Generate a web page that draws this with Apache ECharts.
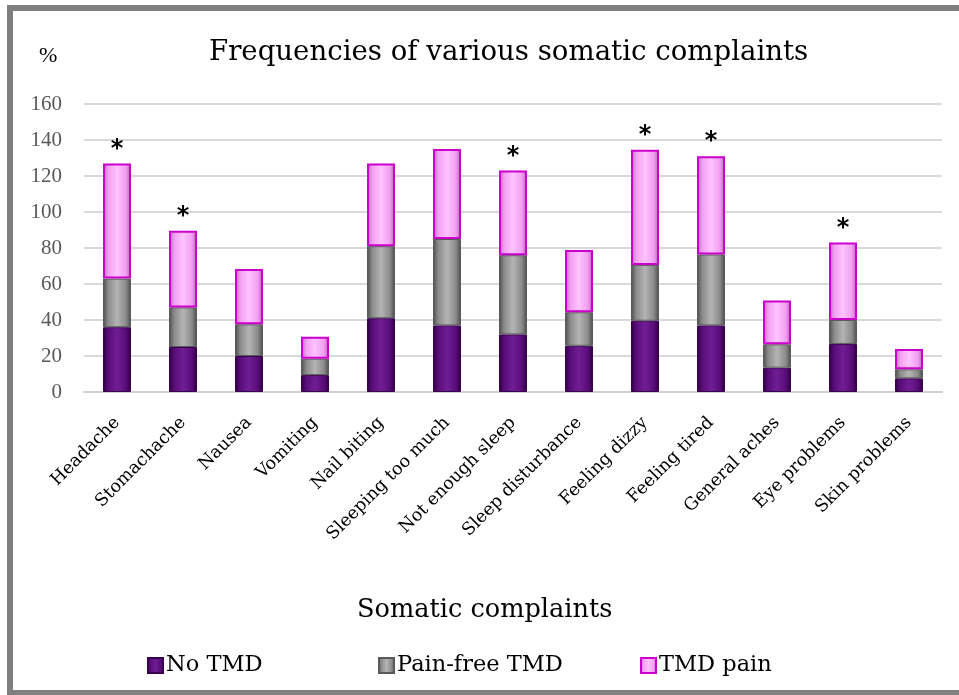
<!DOCTYPE html>
<html><head><meta charset="utf-8">
<script src="https://cdn.jsdelivr.net/npm/echarts@6/dist/echarts.min.js"></script>
<style>html,body{margin:0;padding:0;background:#fff}#c{width:959px;height:695px}</style>
</head><body><div id="c"></div>
<script>
const categories = ['Headache','Stomachache','Nausea','Vomiting','Nail biting','Sleeping too much','Not enough sleep','Sleep disturbance','Feeling dizzy','Feeling tired','General aches','Eye problems','Skin problems'];
const noTMD      = [36, 25, 20, 9.4, 41, 37, 32, 25.7, 39.6, 37, 13.5, 26.7, 7.6];
const painFree   = [27, 22, 17.6, 9.1, 40, 48, 44, 18.6, 31, 39.4, 13, 13.3, 5];
const tmdPain    = [64, 42.6, 30.7, 12.2, 46, 50, 47, 34.6, 64, 54.6, 24.4, 43, 11.3];
const significant = [true, true, false, false, false, false, true, false, true, true, false, true, false];
const yTicks = {min: 0, max: 160, interval: 20};

const FONT = '"DejaVu Serif", serif';
const NUMFONT = '"Liberation Serif", serif';
const G = echarts.graphic.LinearGradient;
function bevel(edge, mid, light) {
  return new G(0, 0, 1, 0, [
    {offset: 0, color: edge}, {offset: 0.18, color: mid},
    {offset: 0.5, color: light}, {offset: 0.82, color: mid}, {offset: 1, color: edge}
  ]);
}
const purple = bevel('#2e0040', '#580c78', '#701e94');
const gray = bevel('#4a4a4a', '#8a8a8a', '#b4b4b4');
const pink = bevel('#b060b0', '#f29ef2', '#ffc4ff');

const chart = echarts.init(document.getElementById('c'), null, {renderer: 'canvas'});
chart.setOption({
  animation: false,
  backgroundColor: '#fff',
  textStyle: {fontFamily: FONT},
  title: [
    {text: 'Frequencies of various somatic complaints', left: 204, top: 34, textStyle: {fontFamily: FONT, fontSize: 27.6, fontWeight: 'normal', color: '#000'}},
    {text: '%', left: 34, top: 40, textStyle: {fontFamily: NUMFONT, fontSize: 22, fontWeight: 'normal', color: '#000'}},
    {text: 'Somatic complaints', left: 352, top: 592, textStyle: {fontFamily: FONT, fontSize: 25.6, fontWeight: 'normal', color: '#000'}}
  ],
  legend: [
    {data: ['No TMD'], left: 147, top: 654},
    {data: ['Pain-free TMD'], left: 378, top: 654},
    {data: ['TMD pain'], left: 640, top: 654}
  ].map(l => Object.assign(l, {icon: 'rect', itemWidth: 15, itemHeight: 15, itemGap: 4, padding: 0,
     textStyle: {fontFamily: FONT, fontSize: 22.5, color: '#000', padding: [0,0,0,-2]}})),
  grid: {left: 84, right: 17, top: 104, bottom: 303, containLabel: false},
  xAxis: {
    type: 'category', data: categories,
    axisLine: {lineStyle: {color: '#d0d0d0', width: 2}},
    axisTick: {show: false},
    axisLabel: {interval: 0, rotate: 45, fontFamily: FONT, fontSize: 17.5, color: '#000', margin: 28}
  },
  yAxis: {
    type: 'value', min: yTicks.min, max: yTicks.max, interval: yTicks.interval,
    axisLine: {show: false}, axisTick: {show: false},
    axisLabel: {fontFamily: NUMFONT, fontSize: 21, color: '#595959', margin: 22},
    splitLine: {lineStyle: {color: '#d9d9d9', width: 2}}
  },
  series: [
    {name: 'No TMD', type: 'bar', stack: 's', data: noTMD, barWidth: 28,
     itemStyle: {color: purple, borderColor: '#3a0050', borderWidth: 1}},
    {name: 'Pain-free TMD', type: 'bar', stack: 's', data: painFree, barWidth: 28,
     itemStyle: {color: gray, borderColor: '#5a5a5a', borderWidth: 1}},
    {name: 'TMD pain', type: 'bar', stack: 's', data: tmdPain, barWidth: 28,
     itemStyle: {color: pink, borderColor: '#cc00cc', borderWidth: 2},
     label: {show: true, position: 'top', distance: 2, fontFamily: '"DejaVu Sans", sans-serif', fontWeight: 'bold', fontSize: 24, color: '#000',
       formatter: p => significant[p.dataIndex] ? '*' : ''}}
  ],
  graphic: [
    {type: 'rect', shape: {x: 10, y: 8, width: 970, height: 685}, style: {fill: 'none', stroke: '#7f7f7f', lineWidth: 6}, silent: true, z: 100}
  ]
});
</script>
</body></html>
